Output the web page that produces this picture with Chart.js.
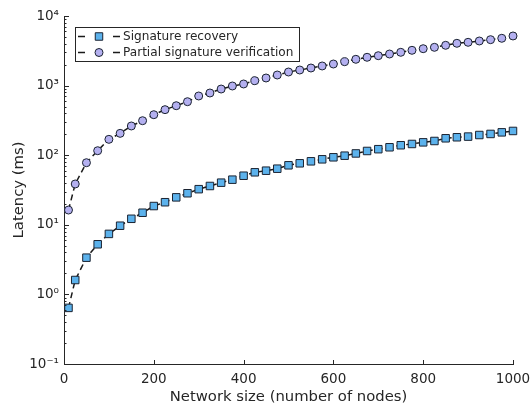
<!DOCTYPE html>
<html>
<head>
<meta charset="utf-8">
<script src="https://cdn.jsdelivr.net/npm/chart.js@4.4.1/dist/chart.umd.min.js"></script>
<style>
  body { margin: 0; background: #fff; }
  canvas { display: block; }
</style>
</head>
<body>
<canvas id="latencyChart" width="530" height="409"></canvas>
<script>
// network sizes (number of nodes)
var nodes = [10, 25, 50, 75, 100, 125, 150, 175, 200, 225, 250, 275, 300, 325, 350, 375, 400,
  425, 450, 475, 500, 525, 550, 575, 600, 625, 650, 675, 700, 725, 750, 775, 800,
  825, 850, 875, 900, 925, 950, 975, 1000];

// latency in ms
var recoveryMs = [0.64, 1.61, 3.37, 5.25, 7.4, 9.7, 12.2, 14.9, 18.6, 21.1, 24.8, 28.4, 32.5, 36.1, 40.3, 44.5, 50.7,
  56.8, 59.9, 64.0, 71.6, 76.5, 81.7, 87.3, 93.3, 98.4, 106, 115, 122, 130, 139, 145, 153,
  160, 175, 181, 185, 195, 202, 213, 223];
var verifyMs = [16.3, 38.6, 78, 116, 169, 206, 263, 313, 382, 451, 514, 587, 709, 783, 893, 987, 1055,
  1177, 1286, 1420, 1568, 1675, 1790, 1914, 2043, 2204, 2387, 2551, 2690, 2844, 3008, 3214, 3390,
  3548, 3793, 4053, 4188, 4375, 4569, 4783, 5164];

var seriesNames = ["Signature recovery", "Partial signature verification"];
var xTicks = [0, 200, 400, 600, 800, 1000];
var yDecades = [-1, 0, 1, 2, 3, 4];

var axisColor = "#262626";
var sup = {"-": "\u207B", "0": "\u2070", "1": "\u00B9", "2": "\u00B2", "3": "\u00B3", "4": "\u2074"};

function toPoints(ys) {
  return nodes.map(function (n, i) { return {x: n, y: ys[i]}; });
}

// inward tick marks, like the original plot
var tickMarks = {
  id: "tickMarks",
  afterDraw: function (chart) {
    var ctx = chart.ctx, xs = chart.scales.x, ys = chart.scales.y;
    var area = chart.chartArea;
    ctx.save();
    ctx.strokeStyle = axisColor;
    ctx.lineWidth = 1;
    ctx.beginPath();
    xTicks.forEach(function (v) {
      var px = Math.round(xs.getPixelForValue(v)) + 0.5;
      ctx.moveTo(px, area.bottom);
      ctx.lineTo(px, area.bottom - 4);
    });
    yDecades.forEach(function (e) {
      for (var m = 1; m <= 9; m++) {
        if (e === 4 && m > 1) break;
        var py = Math.round(ys.getPixelForValue(m * Math.pow(10, e))) + 0.5;
        ctx.moveTo(area.left, py);
        ctx.lineTo(area.left + (m === 1 ? 5 : 2.5), py);
      }
    });
    ctx.stroke();
    ctx.restore();
  }
};

// legend box with line + marker samples
var boxLegend = {
  id: "boxLegend",
  afterDraw: function (chart) {
    var ctx = chart.ctx;
    var left = 75.5, top = 27.5, w = 224, h = 34;
    ctx.save();
    ctx.fillStyle = "#fff";
    ctx.fillRect(left, top, w, h);
    ctx.strokeStyle = axisColor;
    ctx.lineWidth = 1;
    ctx.strokeRect(left, top, w, h);
    chart.data.datasets.forEach(function (ds, i) {
      var cy = 36.5 + i * 16;
      ctx.strokeStyle = ds.borderColor;
      ctx.lineWidth = ds.borderWidth;
      ctx.beginPath();
      ctx.moveTo(78, cy); ctx.lineTo(85, cy);
      ctx.moveTo(113, cy); ctx.lineTo(120, cy);
      ctx.stroke();
      ctx.fillStyle = ds.pointBackgroundColor;
      ctx.strokeStyle = ds.pointBorderColor;
      ctx.lineWidth = ds.pointBorderWidth;
      ctx.beginPath();
      if (ds.pointStyle === "rect") {
        var s = ds.pointRadius * Math.SQRT1_2;
        ctx.rect(99 - s, cy - s, 2 * s, 2 * s);
      } else {
        ctx.arc(99, cy, ds.pointRadius, 0, Math.PI * 2);
      }
      ctx.fill();
      ctx.stroke();
      ctx.fillStyle = axisColor;
      ctx.font = "12.1px 'DejaVu Sans'";
      ctx.textBaseline = "middle";
      ctx.fillText(seriesNames[i], 123, cy);
    });
    ctx.restore();
  }
};

var ctx1 = document.getElementById("latencyChart").getContext("2d");
new Chart(ctx1, {
  type: "line",
  data: {
    datasets: [{
      label: seriesNames[0],
      data: toPoints(recoveryMs),
      borderColor: "#1a1a1a",
      borderWidth: 1.5,
      borderDash: [6, 4],
      pointStyle: "rect",
      pointRadius: 5.3,
      pointBorderWidth: 1,
      pointBackgroundColor: "#5cb2ec",
      pointBorderColor: "#1b2331",
      clip: false
    }, {
      label: seriesNames[1],
      data: toPoints(verifyMs),
      borderColor: "#1a1a1a",
      borderWidth: 1.5,
      borderDash: [6, 4],
      pointStyle: "circle",
      pointRadius: 4,
      pointBorderWidth: 1,
      pointBackgroundColor: "#b4b0f0",
      pointBorderColor: "#1b2331",
      clip: false
    }]
  },
  options: {
    responsive: false,
    animation: false,
    devicePixelRatio: 1,
    layout: { padding: { top: 16, right: 17, left: 0, bottom: 0 } },
    plugins: { legend: { display: false }, tooltip: { enabled: false } },
    scales: {
      x: {
        type: "linear",
        min: 0,
        max: 1000,
        afterFit: function (s) { s.height = 45; s.paddingLeft = 0; s.paddingRight = 8; },
        afterBuildTicks: function (s) { s.ticks = xTicks.map(function (v) { return {value: v}; }); },
        grid: { drawOnChartArea: false, drawTicks: false },
        border: { color: axisColor, width: 1 },
        ticks: {
          color: axisColor,
          font: { family: "DejaVu Sans", size: 13.5 },
          padding: 7,
          maxRotation: 0,
          callback: function (v) { return String(v); }
        },
        title: {
          display: true,
          text: "Network size (number of nodes)",
          color: axisColor,
          font: { family: "DejaVu Sans", size: 14.8 },
          padding: { top: 0, bottom: 3 }
        }
      },
      y: {
        type: "logarithmic",
        min: 0.1,
        max: 10000,
        afterFit: function (s) { s.width = 64; s.paddingTop = 8; s.paddingBottom = 0; },
        afterBuildTicks: function (s) { s.ticks = yDecades.map(function (e) { return {value: Math.pow(10, e)}; }); },
        grid: { drawOnChartArea: false, drawTicks: false },
        border: { color: axisColor, width: 1 },
        ticks: {
          color: axisColor,
          font: { family: "DejaVu Sans", size: 13.5 },
          padding: 5,
          autoSkip: false,
          callback: function (v) {
            var e = String(Math.round(Math.log10(v)));
            return "10" + e.split("").map(function (c) { return sup[c]; }).join("");
          }
        },
        title: {
          display: true,
          text: "Latency (ms)",
          color: axisColor,
          font: { family: "DejaVu Sans", size: 14.8 },
          padding: { top: 10, bottom: 0 }
        }
      }
    }
  },
  plugins: [tickMarks, boxLegend]
});
</script>
</body>
</html>
